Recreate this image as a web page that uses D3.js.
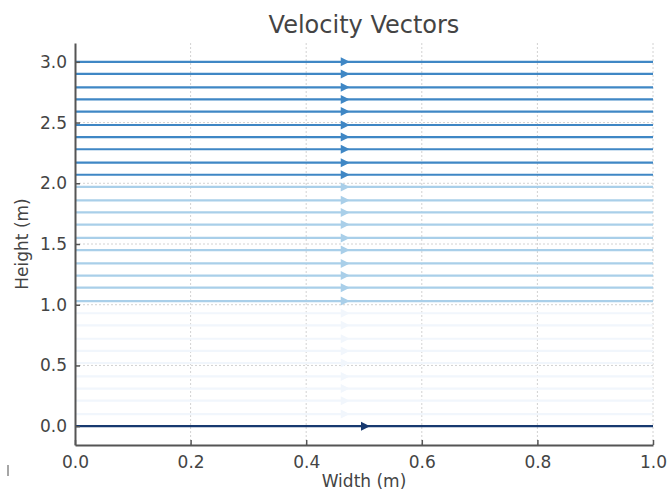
<!DOCTYPE html>
<html>
<head>
<meta charset="utf-8">
<script src="https://cdn.jsdelivr.net/npm/d3@7"></script>
<style>
  html, body { margin: 0; padding: 0; background: #fff; }
  svg { display: block; }
  text { font-family: "DejaVu Sans", sans-serif; }
</style>
</head>
<body>
<svg id="chart" width="668" height="493"></svg>
<script>
// Streamline heights (m)
const lineHeights = [0.00, 0.10, 0.21, 0.31, 0.41, 0.52, 0.62, 0.72, 0.83, 0.93,
                     1.03, 1.14, 1.24, 1.34, 1.45, 1.55, 1.66, 1.76, 1.86, 1.97,
                     2.07, 2.17, 2.28, 2.38, 2.48, 2.59, 2.69, 2.79, 2.90, 3.00];
// Relative shade of each streamline (0 = faint, 1 = dark)
const lineShade = [1.00, 0.05, 0.05, 0.05, 0.05, 0.05, 0.05, 0.05, 0.05, 0.05,
                   0.35, 0.35, 0.35, 0.35, 0.35, 0.35, 0.35, 0.35, 0.35, 0.35,
                   0.65, 0.65, 0.65, 0.65, 0.65, 0.65, 0.65, 0.65, 0.65, 0.65];
// Arrow position (m) along each streamline
const arrowX = [0.50, 0.465, 0.465, 0.465, 0.465, 0.465, 0.465, 0.465, 0.465, 0.465,
                0.465, 0.465, 0.465, 0.465, 0.465, 0.465, 0.465, 0.465, 0.465, 0.465,
                0.465, 0.465, 0.465, 0.465, 0.465, 0.465, 0.465, 0.465, 0.465, 0.465];
const xTicks = [0.0, 0.2, 0.4, 0.6, 0.8, 1.0];
const yTicks = [0.0, 0.5, 1.0, 1.5, 2.0, 2.5, 3.0];
const xDomain = [0, 1];
const yDomain = [-0.155, 3.155];

const svg = d3.select("#chart");
const L = 75, R = 653, T = 43, B = 445;
const x = d3.scaleLinear().domain(xDomain).range([L, R]);
const y = d3.scaleLinear().domain(yDomain).range([B, T]);

const color = d3.scaleLinear()
  .domain([0.05, 0.35, 0.65, 1.0])
  .range(["#f1f6fc", "#a9cfe9", "#3f87c5", "#17396f"]);

// grid
const grid = svg.append("g");
grid.selectAll(".vg").data(xTicks.filter(d => d > 0)).join("line")
  .attr("x1", d => x(d)).attr("x2", d => x(d)).attr("y1", T).attr("y2", B)
  .attr("stroke", "#d2d2d2").attr("stroke-width", 1).attr("stroke-dasharray", "2,2");
grid.selectAll(".hg").data(yTicks).join("line")
  .attr("x1", L).attr("x2", R).attr("y1", d => y(d)).attr("y2", d => y(d))
  .attr("stroke", "#d2d2d2").attr("stroke-width", 1).attr("stroke-dasharray", "2,2");

// streamlines
const lines = lineHeights.map((h, i) => ({ h, s: lineShade[i], ax: arrowX[i] }));
const g = svg.append("g");
g.selectAll("line.s").data(lines).join("line")
  .attr("x1", x(0)).attr("x2", x(1))
  .attr("y1", d => y(d.h)).attr("y2", d => y(d.h))
  .attr("stroke", d => color(d.s)).attr("stroke-width", 2.2);
g.selectAll("path.a").data(lines).join("path")
  .attr("d", d => {
    const cx = x(d.ax), cy = y(d.h);
    return `M${cx - 3},${cy - 4.5}L${cx + 6},${cy}L${cx - 3},${cy + 4.5}Z`;
  })
  .attr("fill", d => color(d.s));

// axes
const axisColor = "#555";
const xAxis = svg.append("g").attr("transform", `translate(0,${B})`)
  .call(d3.axisBottom(x).tickValues(xTicks).tickFormat(d3.format(".1f")).tickSizeInner(-5).tickSizeOuter(0).tickPadding(11));
const yAxis = svg.append("g").attr("transform", `translate(${L},0)`)
  .call(d3.axisLeft(y).tickValues(yTicks).tickFormat(d3.format(".1f")).tickSizeInner(-5).tickSizeOuter(0).tickPadding(8));
[xAxis, yAxis].forEach(a => {
  a.select(".domain").attr("stroke", axisColor).attr("stroke-width", 2);
  a.selectAll(".tick line").attr("stroke", axisColor).attr("stroke-width", 1.5);
  a.selectAll(".tick text").attr("fill", "#444").style("font-size", "17px")
    .style("font-family", "'DejaVu Sans', sans-serif");
});

// title & labels
svg.append("text").attr("x", (L + R) / 2).attr("y", 33).attr("text-anchor", "middle")
  .attr("fill", "#444").style("font-size", "24px").text("Velocity Vectors");
svg.append("text").attr("x", (L + R) / 2).attr("y", 487).attr("text-anchor", "middle")
  .attr("fill", "#444").style("font-size", "17px").text("Width (m)");
svg.append("text").attr("transform", `translate(28,${(T + B) / 2}) rotate(-90)`)
  .attr("text-anchor", "middle").attr("fill", "#444").style("font-size", "17px").text("Height (m)");

// small artifact mark at lower-left
svg.append("line").attr("x1", 8).attr("x2", 8).attr("y1", 465).attr("y2", 476)
  .attr("stroke", "#888").attr("stroke-width", 1.5);
</script>
</body>
</html>
